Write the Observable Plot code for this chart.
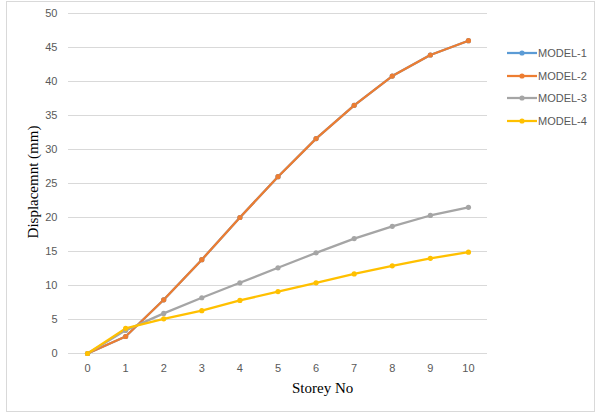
<!DOCTYPE html>
<html><head><meta charset="utf-8">
<script src="https://cdn.jsdelivr.net/npm/d3@7"></script>
<script src="https://cdn.jsdelivr.net/npm/@observablehq/plot@0.6"></script>
<style>
body{margin:0;background:#fff}
#wrap{position:relative;width:602px;height:418px;overflow:hidden}
#border{position:absolute;left:6px;top:1px;width:589px;height:411px;border:1px solid #d9d9d9;box-sizing:border-box}
#chart{position:absolute;left:0;top:0}
.ttl{position:absolute;font-family:"Liberation Serif","Times New Roman",serif;font-size:15px;font-weight:normal;color:#000;white-space:nowrap}
#ylab{left:33px;top:182px;transform:translate(-50%,-50%) rotate(-90deg)}
#xlab{left:292px;top:388px;transform:translate(0,-50%)}
#legend{position:absolute;left:506px;top:42px;font-family:"Liberation Sans",Arial,sans-serif;font-size:11px;color:#595959}
#legend .item{display:flex;align-items:center;height:22.5px}
#legend svg{margin-right:1px}
</style></head>
<body>
<div id="wrap">
<div id="border"></div>
<div id="chart"></div>
<div class="ttl" id="ylab">Displacemnt (mm)</div>
<div class="ttl" id="xlab">Storey No</div>
<div id="legend"></div>
</div>
<script>
const storeys = [0,1,2,3,4,5,6,7,8,9,10];
const seriesNames = ["MODEL-1","MODEL-2","MODEL-3","MODEL-4"];
const seriesColors = ["#5b9bd5","#ed7d31","#a5a5a5","#ffc000"];
const model1 = [0,2.5,7.9,13.8,20,26,31.6,36.5,40.8,43.9,46];
const model2 = [0,2.5,7.9,13.8,20,26,31.6,36.5,40.8,43.9,46];
const model3 = [0,3.4,5.9,8.2,10.4,12.6,14.8,16.9,18.7,20.3,21.5];
const model4 = [0,3.7,5.1,6.3,7.8,9.1,10.4,11.7,12.9,14.0,14.9];
const yTicks = [0,5,10,15,20,25,30,35,40,45,50];

const allSeries = [model1, model2, model3, model4];
const rows = [];
allSeries.forEach((vals, i) => vals.forEach((v, j) => rows.push({series: seriesNames[i], storey: storeys[j], disp: v})));

const chart = Plot.plot({
  width: 602, height: 418,
  marginLeft: 68, marginRight: 115, marginTop: 13, marginBottom: 65,
  style: {fontFamily: "'Liberation Sans', Arial, sans-serif", fontSize: "11px", background: "transparent"},
  x: {domain: [-0.5, 10.5]},
  y: {domain: [0, 50]},
  color: {domain: seriesNames, range: seriesColors},
  marks: [
    Plot.gridY(yTicks, {stroke: "#d9d9d9", strokeOpacity: 1, strokeWidth: 1}),
    Plot.axisY(yTicks, {tickSize: 0, tickPadding: 11, label: null, color: "#595959", fontSize: 11}),
    Plot.axisX(storeys, {tickSize: 0, tickPadding: 11, label: null, color: "#595959", fontSize: 11}),
    Plot.line(rows, {x: "storey", y: "disp", z: "series", stroke: "series", strokeWidth: 2.25}),
    Plot.dot(rows, {x: "storey", y: "disp", fill: "series", r: 2.6})
  ]
});
document.getElementById("chart").appendChild(chart);

const legend = document.getElementById("legend");
seriesNames.forEach((n, i) => {
  const d = document.createElement("div");
  d.className = "item";
  d.innerHTML = `<svg width="31" height="8"><line x1="1" y1="4" x2="31" y2="4" stroke="${seriesColors[i]}" stroke-width="2.25"/><circle cx="16" cy="4" r="2.6" fill="${seriesColors[i]}"/></svg><span>${n}</span>`;
  legend.appendChild(d);
});
</script>
</body></html>
